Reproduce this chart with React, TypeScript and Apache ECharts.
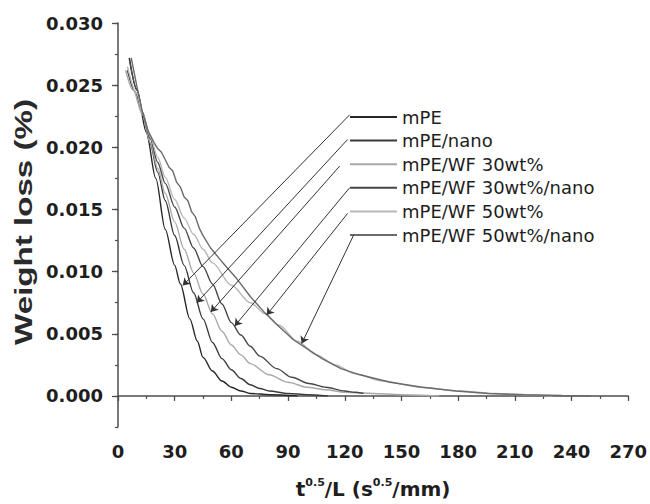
import React, { useEffect, useRef } from "react";
import * as echarts from "echarts";

// ---- data ----
const seriesNames = [
  "mPE",
  "mPE/nano",
  "mPE/WF 30wt%",
  "mPE/WF 30wt%/nano",
  "mPE/WF 50wt%",
  "mPE/WF 50wt%/nano",
];
const seriesColors = ["#262626", "#3a3a3a", "#a9a9a9", "#474747", "#b8b8b8", "#6a6a6a"];

const mPE_x = [6, 10, 15, 20, 25, 30, 33, 38, 42, 45, 50, 55, 60, 65, 70, 80, 95];
const mPE_y = [0.0272, 0.0246, 0.0212, 0.0175, 0.0134, 0.0105, 0.009, 0.0062, 0.0044, 0.0031, 0.002, 0.0012, 0.0007, 0.0004, 0.0002, 0.0001, 0];

const nano_x = [5, 9, 13, 17, 21, 25, 30, 35, 40, 45, 50, 55, 60, 65, 70, 75, 80, 90, 100, 111];
const nano_y = [0.0262, 0.0245, 0.0227, 0.0203, 0.018, 0.0157, 0.0129, 0.0105, 0.0083, 0.0062, 0.0043, 0.003, 0.0021, 0.0014, 0.0009, 0.0006, 0.0004, 0.0002, 0.0001, 0];

const wf30_x = [4, 8, 13, 17, 21, 25, 30, 35, 40, 45, 50, 55, 60, 65, 70, 80, 90, 100, 110, 120, 135, 150, 170];
const wf30_y = [0.0262, 0.0246, 0.0226, 0.0204, 0.0183, 0.0163, 0.014, 0.0118, 0.0099, 0.0082, 0.0066, 0.0052, 0.0041, 0.0033, 0.0026, 0.0017, 0.0011, 0.0007, 0.0005, 0.0003, 0.0002, 0.0001, 0];

const wf30n_x = [6, 10, 13, 17, 21, 25, 30, 35, 40, 45, 50, 55, 60, 65, 70, 75, 84, 92, 101, 110, 120, 125, 130];
const wf30n_y = [0.0271, 0.0247, 0.0228, 0.0207, 0.0188, 0.0171, 0.0152, 0.0135, 0.0119, 0.0104, 0.009, 0.0074, 0.0059, 0.0049, 0.004, 0.0032, 0.0022, 0.0015, 0.001, 0.0007, 0.0004, 0.0003, 0.0002];

const wf50_x = [5, 10, 13, 17, 21, 25, 30, 35, 40, 45, 50, 60, 70, 78, 85, 95, 105, 115, 125, 140, 160, 180, 200, 215, 230];
const wf50_y = [0.0265, 0.0243, 0.0227, 0.0209, 0.0192, 0.0176, 0.0158, 0.0143, 0.013, 0.0118, 0.0107, 0.0089, 0.0075, 0.0066, 0.0057, 0.0044, 0.0033, 0.0025, 0.0018, 0.0012, 0.0007, 0.0004, 0.0002, 0.0001, 0];

const wf50n_x = [7, 10, 13, 16, 19, 21, 23, 25, 27, 29, 31, 33, 35, 37, 39, 41, 43, 45, 49, 55, 63, 70, 77, 85, 93, 100, 108, 118, 128, 144, 161, 179, 196, 215, 235, 250];
const wf50n_y = [0.0272, 0.0249, 0.0228, 0.0213, 0.0204, 0.0199, 0.0196, 0.019, 0.0184, 0.0181, 0.0172, 0.0168, 0.016, 0.0157, 0.0148, 0.0144, 0.0135, 0.0129, 0.0119, 0.0108, 0.0094, 0.008, 0.0068, 0.0056, 0.0045, 0.0038, 0.003, 0.0022, 0.0017, 0.0011, 0.0007, 0.0004, 0.0002, 0.0001, 0.00003, 0];

const seriesX = [mPE_x, nano_x, wf30_x, wf30n_x, wf50_x, wf50n_x];
const seriesY = [mPE_y, nano_y, wf30_y, wf30n_y, wf50_y, wf50n_y];

// leader lines: start (near the label) and arrow tip (on the curve), data units
const leaderStartX = [122.6, 121.5, 117.3, 122.6, 121.5, 124.7];
const leaderStartY = [0.02262, 0.02063, 0.01849, 0.01675, 0.01468, 0.01294];
const leaderEndX = [34.3, 41.7, 49.1, 61.8, 78.7, 97.2];
const leaderEndY = [0.00889, 0.0075, 0.00675, 0.00563, 0.00651, 0.00421];

const xTicks = { min: 0, max: 270, step: 30 };
const yMajorTicks = [0, 0.005, 0.01, 0.015, 0.02, 0.025, 0.03];
const yRange = { min: -0.0025, max: 0.03, step: 0.0025 };

const AXIS = "#4d4d4d";
const TXT = "#1e1e1e";

export default function App() {
  const ref = useRef<HTMLDivElement>(null);
  useEffect(() => {
    if (!ref.current) return;
    const chart = echarts.init(ref.current, undefined, { renderer: "svg" });

    const series: any[] = seriesNames.map((name, i) => ({
      name,
      type: "line",
      data: seriesX[i].map((x, j) => [x, seriesY[i][j]]),
      showSymbol: false,
      symbol: "none",
      smooth: i === 5 ? false : 0.3,
      smoothMonotone: "x",
      lineStyle: { color: seriesColors[i], width: 1.4 },
      itemStyle: { color: seriesColors[i] },
      z: 2,
    }));

    series[0].markLine = {
      silent: true,
      animation: false,
      symbol: ["none", "arrow"],
      symbolSize: 7,
      label: { show: false },
      lineStyle: { color: "#333", width: 1, type: "solid" },
      emphasis: { disabled: true },
      data: leaderStartX.map((sx, i) => [
        { coord: [sx, leaderStartY[i]] },
        { coord: [leaderEndX[i], leaderEndY[i]] },
      ]),
    };

    chart.setOption({
      animation: false,
      grid: { left: 118, right: 21, top: 23, bottom: 71, containLabel: false },
      legend: {
        orient: "vertical",
        left: 350,
        top: 107,
        padding: 0,
        selectedMode: false,
        itemWidth: 47,
        itemHeight: 2,
        itemGap: 3.6,
        icon: "rect",
        data: seriesNames,
        textStyle: { fontFamily: "DejaVu Sans", fontSize: 18, lineHeight: 20, color: TXT },
      },
      xAxis: {
        type: "value",
        min: xTicks.min,
        max: xTicks.max,
        interval: xTicks.step,
        name: "{m|t}{sup|0.5}{m|/L (s}{sup|0.5}{m|/mm)}",
        nameLocation: "middle",
        nameGap: 50,
        nameTextStyle: {
          rich: {
            m: { fontFamily: "DejaVu Sans", fontWeight: "bold", fontSize: 20, color: TXT, lineHeight: 24 },
            sup: { fontFamily: "DejaVu Sans", fontWeight: "bold", fontSize: 11, color: TXT, verticalAlign: "top", lineHeight: 24 },
          },
        },
        axisLine: { lineStyle: { color: AXIS, width: 1.5 } },
        axisTick: { length: 5, lineStyle: { color: AXIS, width: 1.3 } },
        minorTick: { show: true, splitNumber: 2, length: 3, lineStyle: { color: AXIS, width: 1.2 } },
        splitLine: { show: false },
        axisLabel: { fontFamily: "DejaVu Sans", fontWeight: "bold", fontSize: 18, color: TXT, margin: 15 },
      },
      yAxis: [
        {
          type: "value",
          min: yRange.min,
          max: yRange.max,
          interval: yRange.step,
          axisLine: { show: true, lineStyle: { color: AXIS, width: 1.5 } },
          axisTick: { show: true, length: 3, lineStyle: { color: AXIS, width: 1.2 } },
          splitLine: { show: false },
          axisLabel: {
            fontFamily: "DejaVu Sans",
            fontWeight: "bold",
            fontSize: 18,
            color: TXT,
            margin: 15,
            formatter: (v: number) => {
              const r = Math.round(v * 10000);
              return r >= 0 && r % 50 === 0 ? v.toFixed(3) : "";
            },
          },
        },
        {
          type: "value",
          position: "left",
          min: yRange.min,
          max: yRange.max,
          axisLine: { show: false },
          axisTick: { show: true, length: 6, customValues: yMajorTicks, lineStyle: { color: AXIS, width: 1.3 } },
          axisLabel: { show: false },
          splitLine: { show: false },
        },
      ],
      graphic: [
        {
          type: "text",
          x: 24,
          y: 222,
          rotation: Math.PI / 2,
          scaleX: 1.38,
          style: {
            text: "Weight loss (%)",
            font: 'bold 24px "Liberation Sans"',
            fill: "#2a2a2a",
            textAlign: "center",
            textVerticalAlign: "middle",
          },
        },
      ],
      series,
    });
    return () => chart.dispose();
  }, []);
  return (
    <div
      ref={ref}
      style={{ position: "absolute", left: 0, top: 0, width: 650, height: 504 }}
    />
  );
}
